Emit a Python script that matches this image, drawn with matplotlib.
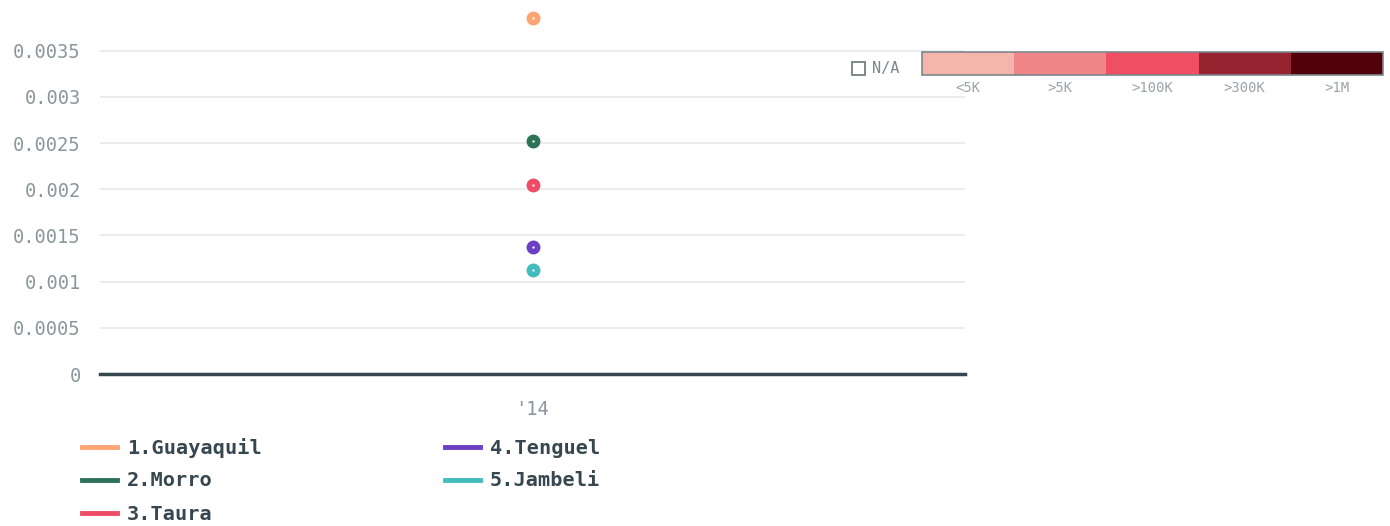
import matplotlib
matplotlib.use("Agg")
import matplotlib.pyplot as plt
from matplotlib.patches import Rectangle
from matplotlib.lines import Line2D

# Data
years = [2014]
series_names = ["1.Guayaquil", "2.Morro", "3.Taura", "4.Tenguel", "5.Jambeli"]
series_values = [0.003857, 0.002525, 0.002048, 0.001376, 0.001127]
series_colors = ["#ffa473", "#2e7358", "#ee4d65", "#6c3fc4", "#43bcbd"]
y_ticks = [0, 0.0005, 0.001, 0.0015, 0.002, 0.0025, 0.003, 0.0035]
y_tick_labels = ["0", "0.0005", "0.001", "0.0015", "0.002", "0.0025", "0.003", "0.0035"]
x_tick_labels = ["'14"]
scale_labels = ["<5K", ">5K", ">100K", ">300K", ">1M"]
scale_colors = ["#f4b6ac", "#f08688", "#f04e62", "#952330", "#52000b"]

mono = "DejaVu Sans Mono"
grey = "#8b969c"
dark = "#37474f"

fig = plt.figure(figsize=(13.9, 5.26), dpi=100)
ax = fig.add_axes([100/1390, 1-374/526, 865/1390, 374/526])
ax.set_xlim(2013, 2015)
ax.set_ylim(0, 0.00405)
ax.set_yticks(y_ticks)
ax.set_yticklabels(y_tick_labels, fontfamily=mono, fontsize=13.5, color=grey)
ax.set_xticks([2014])
ax.set_xticklabels(x_tick_labels, fontfamily=mono, fontsize=13.5, color=grey)
ax.tick_params(axis="both", length=0)
ax.tick_params(axis="y", pad=14)
ax.tick_params(axis="x", pad=19)
for s in ["top", "right", "left"]:
    ax.spines[s].set_visible(False)
ax.spines["bottom"].set_color(dark)
ax.spines["bottom"].set_linewidth(2.5)
ax.grid(axis="y", color="#e8eaec", linewidth=1.3)
ax.set_axisbelow(True)

for name, val, col in zip(series_names, series_values, series_colors):
    ax.plot([years[0]], [val], marker="o", markersize=9, color=col, linestyle="none", zorder=3)
    ax.plot([years[0]], [val], marker="o", markersize=0.8, color="white", alpha=0.8,
            linestyle="none", zorder=4)

# Legend (manual, two columns)
leg_rows = [447, 480, 513]
for i, (name, col) in enumerate(zip(series_names, series_colors)):
    colx = 0 if i < 3 else 1
    row = i if i < 3 else i - 3
    x0 = 82 if colx == 0 else 445
    y = 1 - leg_rows[row]/526
    fig.add_artist(Line2D([x0/1390, (x0+35)/1390], [y, y], color=col, linewidth=3.5,
                          transform=fig.transFigure))
    fig.text((x0+45)/1390, y - 1/526, name, fontfamily=mono, fontweight="bold", fontsize=14.6,
             color=dark, va="center", ha="left")

# Color scale legend
cx0, cx1 = 922/1390, 1383/1390
cy0, ch = 1-75/526, 23/526
seg = (cx1 - cx0) / len(scale_colors)
for i, (lab, col) in enumerate(zip(scale_labels, scale_colors)):
    fig.add_artist(Rectangle((cx0 + i*seg, cy0), seg, ch, facecolor=col, edgecolor="none",
                             transform=fig.transFigure))
    fig.text(cx0 + (i+0.5)*seg, 1-88/526, lab, fontfamily=mono, fontsize=10, color="#9aa3a8",
             ha="center", va="center")
fig.add_artist(Rectangle((cx0, cy0), cx1-cx0, ch, facecolor="none", edgecolor="#7d878c",
                         linewidth=1.2, transform=fig.transFigure))
fig.add_artist(Rectangle((852/1390, 1-75/526), 13/1390, 13/526, facecolor="white",
                         edgecolor="#7d878c", linewidth=1.4, transform=fig.transFigure))
fig.text(872/1390, 1-68.5/526, "N/A", fontfamily=mono, fontsize=11, color="#7d878c",
         ha="left", va="center")

fig.savefig("out.png", dpi=100)
